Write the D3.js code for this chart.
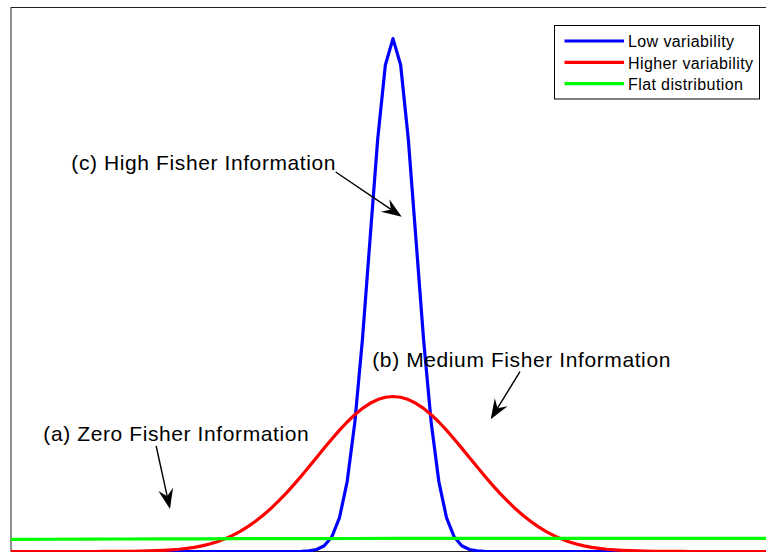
<!DOCTYPE html>
<html>
<head>
<meta charset="utf-8">
<script src="https://cdn.jsdelivr.net/npm/d3@7"></script>
<style>
  html, body { margin: 0; padding: 0; background: #fff; }
  svg { display: block; font-family: "Liberation Sans", Arial, Helvetica, sans-serif; }
</style>
</head>
<body>
<svg id="chart" width="766" height="552"></svg>
<script>
// Sample positions (x from -5 to 5, step 0.1)
const xs = d3.range(101).map(i => -5 + i * 0.1);

// Low variability density, values for x = 0, 0.1, 0.2, ... (symmetric about 0)
const lowHalf = [1.3200, 1.2520, 1.0620, 0.8050, 0.5460, 0.3317, 0.1800, 0.0874,
  0.0380, 0.0148, 0.0051, 0.0016, 0.0004];

// Higher variability density, values for x = 0, 0.1, 0.2, ... (symmetric about 0)
const highHalf = [0.3989, 0.3970, 0.3910, 0.3814, 0.3683, 0.3521, 0.3332, 0.3123,
  0.2897, 0.2661, 0.2420, 0.2179, 0.1942, 0.1714, 0.1497, 0.1295, 0.1105, 0.0932,
  0.0778, 0.0640, 0.0520, 0.0415, 0.0325, 0.0250, 0.0192, 0.0145, 0.0108, 0.0080,
  0.0058, 0.0042, 0.0030, 0.0021, 0.0015, 0.0010, 0.0007, 0.0005, 0.0003, 0.0002,
  0.0001];

// Flat distribution, values at x = -5, -4, ..., 5
const flatX = [-5, -4, -3, -2, -1, 0, 1, 2, 3, 4, 5];
const flatVals = [0.0312, 0.0318, 0.0324, 0.0329, 0.0333, 0.0336, 0.0338, 0.0339, 0.0340, 0.0340, 0.0340];

const seriesNames = ["Low variability", "Higher variability", "Flat distribution"];
const seriesColors = ["#0000ff", "#ff0000", "#00ff00"];

// Text annotations with arrows: label, label anchor, arrow tail, arrow tip (data units)
const annLabels = ["(c) High Fisher Information", "(b) Medium Fisher Information", "(a) Zero Fisher Information"];
const annTextPos = [[-4.21, 0.983], [-0.271, 0.4756], [-4.577, 0.2844]];
const annTail = [[-0.75, 0.9766], [1.662, 0.4627], [-3.10, 0.2715]];
const annTip = [[0.114, 0.8616], [1.279, 0.3402], [-2.919, 0.1094]];

const xDomain = [-5, 5];
const yDomain = [0, 1.4];

// Mirror a half table into a full symmetric series on xs
function symmetric(half) {
  return xs.map(x => {
    const k = Math.round(Math.abs(x) * 10);
    return k < half.length ? half[k] : 0;
  });
}
const lowVals = symmetric(lowHalf);
const highVals = symmetric(highHalf);

const svg = d3.select("#chart");
const plot = { left: 11, top: 7.5, right: 775, bottom: 551.5 };

const x = d3.scaleLinear().domain(xDomain).range([plot.left, plot.right]);
const y = d3.scaleLinear().domain(yDomain).range([plot.bottom, plot.top]);

// Axes box
svg.append("rect")
  .attr("x", plot.left).attr("y", plot.top)
  .attr("width", plot.right - plot.left).attr("height", plot.bottom - plot.top)
  .attr("fill", "#fff").attr("stroke", "#222").attr("stroke-width", 1);

const line = d3.line().x(d => x(d[0])).y(d => y(d[1]));

svg.append("clipPath").attr("id", "plotclip")
  .append("rect").attr("x", plot.left).attr("y", 0)
  .attr("width", plot.right - plot.left).attr("height", 560);

const g = svg.append("g").attr("clip-path", "url(#plotclip)");

const series = [
  xs.map((v, i) => [v, lowVals[i]]),
  xs.map((v, i) => [v, highVals[i]]),
  flatX.map((v, i) => [v, flatVals[i]])
];

series.forEach((pts, i) => {
  g.append("path")
    .attr("d", i === 2 ? line.curve(d3.curveMonotoneX)(pts) : line.curve(d3.curveLinear)(pts))
    .attr("fill", "none")
    .attr("stroke", seriesColors[i])
    .attr("stroke-width", 3.2)
    .attr("stroke-linejoin", "round");
});

// Annotations
const annG = svg.append("g");
annLabels.forEach((t, i) => {
  annG.append("text")
    .attr("x", x(annTextPos[i][0])).attr("y", y(annTextPos[i][1]))
    .attr("font-size", 21).attr("letter-spacing", 0.6).attr("fill", "#000")
    .text(t);

  const x0 = x(annTail[i][0]), y0 = y(annTail[i][1]);
  const x1 = x(annTip[i][0]), y1 = y(annTip[i][1]);
  const ang = Math.atan2(y1 - y0, x1 - x0);
  const len = 20, halfW = 7.5, notch = 13;
  const ux = Math.cos(ang), uy = Math.sin(ang);
  const px = -uy, py = ux;
  const bx = x1 - ux * len, by = y1 - uy * len;
  const nx = x1 - ux * notch, ny = y1 - uy * notch;
  annG.append("line")
    .attr("x1", x0).attr("y1", y0).attr("x2", nx).attr("y2", ny)
    .attr("stroke", "#000").attr("stroke-width", 1.4);
  annG.append("path")
    .attr("d", `M${x1},${y1} L${bx + px * halfW},${by + py * halfW} L${nx},${ny} L${bx - px * halfW},${by - py * halfW} Z`)
    .attr("fill", "#000");
});

// Legend
const leg = svg.append("g").attr("transform", "translate(554.5,25.5)");
leg.append("rect").attr("width", 205).attr("height", 73.5)
  .attr("fill", "#fff").attr("stroke", "#000").attr("stroke-width", 1);
seriesNames.forEach((n, i) => {
  const ry = 15.5 + i * 21.3;
  leg.append("line")
    .attr("x1", 10).attr("x2", 69.5).attr("y1", ry).attr("y2", ry)
    .attr("stroke", seriesColors[i]).attr("stroke-width", 3.2);
  leg.append("text")
    .attr("x", 73.5).attr("y", ry + 6.3)
    .attr("font-size", 16).attr("letter-spacing", 0.4).attr("fill", "#000")
    .text(n);
});
</script>
</body>
</html>
